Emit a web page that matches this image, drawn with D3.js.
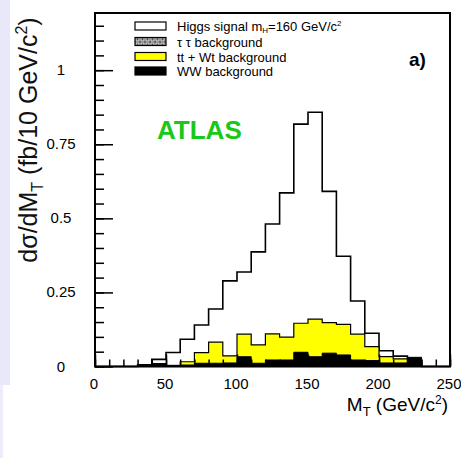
<!DOCTYPE html>
<html>
<head>
<meta charset="utf-8">
<script src="https://cdn.jsdelivr.net/npm/d3@7"></script>
<style>
body { margin: 0; background: #fff; }
svg { display: block; font-family: "Liberation Sans", Arial, sans-serif; }
</style>
</head>
<body>
<svg id="chart" width="461" height="458"></svg>
<script>
// lower edges of the 10 GeV bins of M_T
var binLow = [0, 10, 20, 30, 40, 50, 60, 70, 80, 90, 100, 110, 120, 130, 140, 150, 160, 170, 180, 190, 200, 210, 220, 230, 240];
var binSize = 10;

// dsigma/dM_T in fb per bin
var higgs = [0, 0, 0, 0.006, 0.024, 0.047, 0.092, 0.14, 0.194, 0.289, 0.319, 0.387, 0.481, 0.586, 0.818, 0.858, 0.591, 0.372, 0.221, 0.112, 0.053, 0.035, 0.01, 0, 0];
var ttWt = [0, 0, 0, 0, 0, 0, 0.016, 0.047, 0.082, 0.036, 0.109, 0.073, 0.11, 0.099, 0.146, 0.16, 0.148, 0.142, 0.109, 0.067, 0.033, 0.026, 0, 0, 0];
var ww = [0, 0, 0, 0.003, 0.01, 0.004, 0.005, 0.011, 0.011, 0.012, 0.033, 0.011, 0.022, 0.022, 0.048, 0.033, 0.045, 0.039, 0.022, 0.02, 0.012, 0.012, 0.031, 0, 0];

var xTicks = [0, 50, 100, 150, 200, 250];
var yTicks = [0, 0.25, 0.5, 0.75, 1];
var yTickLabels = ['0', '0.25', '0.5', '0.75', '1'];

var legendLabels = ['Higgs signal m', '\u03c4 \u03c4 background', 'tt + Wt background', 'WW background'];

var svg = d3.select('#chart');

// lavender strip on the left of the page
svg.append('rect').attr('x', 0).attr('y', 0).attr('width', 10).attr('height', 385).attr('fill', '#e8e8fa');
svg.append('rect').attr('x', 0).attr('y', 385).attr('width', 3).attr('height', 73).attr('fill', '#ececfb');

var x = d3.scaleLinear().domain([0, 250]).range([95, 450]);
var y = d3.scaleLinear().domain([0, 1.193]).range([366.5, 13]);

function stepPoints(vals) {
    var pts = [[binLow[0], 0]];
    for(var i = 0; i < vals.length; i++) {
        pts.push([binLow[i], vals[i]]);
        pts.push([binLow[i] + binSize, vals[i]]);
    }
    pts.push([binLow[binLow.length - 1] + binSize, 0]);
    return pts;
}

var line = d3.line()
    .x(function(d) { return x(d[0]); })
    .y(function(d) { return y(d[1]); });

var plot = svg.append('g');

plot.append('path')
    .attr('d', line(stepPoints(higgs)))
    .attr('fill', '#fff')
    .attr('stroke', '#000')
    .attr('stroke-width', 1.6);

plot.append('path')
    .attr('d', line(stepPoints(ttWt)))
    .attr('fill', '#ffff00')
    .attr('stroke', '#000')
    .attr('stroke-width', 1.2);

plot.append('path')
    .attr('d', line(stepPoints(ww)))
    .attr('fill', '#000')
    .attr('stroke', '#000')
    .attr('stroke-width', 1);

// ticks, pointing into the frame
var axes = svg.append('g').attr('stroke-width', 1.5);

axes.append('g')
    .attr('transform', 'translate(0,' + y(0) + ')')
    .call(d3.axisBottom(x).tickValues(d3.range(0, 251, 10)).tickSize(-7).tickFormat(''))
    .call(function(g) { g.select('.domain').remove(); });

axes.append('g')
    .attr('transform', 'translate(0,' + y(0) + ')')
    .call(d3.axisBottom(x).tickValues(xTicks).tickSize(-12).tickFormat(''))
    .call(function(g) { g.select('.domain').remove(); });

axes.append('g')
    .attr('transform', 'translate(' + x(0) + ',0)')
    .call(d3.axisLeft(y).tickValues(d3.range(0, 1.19, 0.05)).tickSize(-9).tickFormat(''))
    .call(function(g) { g.select('.domain').remove(); });

axes.append('g')
    .attr('transform', 'translate(' + x(0) + ',0)')
    .call(d3.axisLeft(y).tickValues(yTicks).tickSize(-18).tickFormat(''))
    .call(function(g) { g.select('.domain').remove(); });

axes.selectAll('line').attr('stroke', '#000');

// frame
svg.append('rect')
    .attr('x', x(0)).attr('y', y.range()[1])
    .attr('width', x(250) - x(0)).attr('height', y(0) - y.range()[1])
    .attr('fill', 'none').attr('stroke', '#000').attr('stroke-width', 2);

// tick labels
svg.append('g').selectAll('text')
    .data(xTicks)
    .join('text')
    .attr('x', function(d) { return x(d) - 1; })
    .attr('y', 389)
    .attr('text-anchor', 'middle')
    .attr('font-size', 15)
    .text(function(d) { return d; });

svg.append('g').selectAll('text')
    .data(yTicks)
    .join('text')
    .attr('x', 61)
    .attr('y', function(d) { return y(d) + 5; })
    .attr('text-anchor', 'middle')
    .attr('font-size', 15)
    .text(function(d, i) { return yTickLabels[i]; });

// axis titles
var xt = svg.append('text')
    .attr('x', 448).attr('y', 411)
    .attr('text-anchor', 'end')
    .attr('font-size', 19);
xt.append('tspan').text('M');
xt.append('tspan').attr('font-size', 13).attr('dy', 5).text('T');
xt.append('tspan').attr('dy', -5).text(' (GeV/c');
xt.append('tspan').attr('font-size', 12).attr('dy', -7).text('2');
xt.append('tspan').attr('dy', 7).text(')');

var yt = svg.append('text')
    .attr('transform', 'translate(37,140) rotate(-90)')
    .attr('text-anchor', 'middle')
    .attr('font-size', 25)
    .attr('fill', '#111');
yt.append('tspan').text('d\u03c3/dM');
yt.append('tspan').attr('font-size', 16).attr('dy', 6).text('T');
yt.append('tspan').attr('dy', -6).text(' (fb/10 GeV/c');
yt.append('tspan').attr('font-size', 16).attr('dy', -10).text('2');
yt.append('tspan').attr('dy', 10).text(')');

// legend
var defs = svg.append('defs');
var pat = defs.append('pattern')
    .attr('id', 'tautau').attr('patternUnits', 'userSpaceOnUse')
    .attr('width', 5).attr('height', 6);
pat.append('rect').attr('width', 5).attr('height', 6).attr('fill', '#555');
pat.append('rect').attr('x', 1).attr('y', 1).attr('width', 3).attr('height', 4).attr('fill', 'none')
    .attr('stroke', '#fff').attr('stroke-width', 0.8);

var legendFills = ['#fff', 'url(#tautau)', '#ffff00', '#000'];
var legend = svg.append('g').attr('font-size', 13);
var rowY = [26, 41.5, 56.5, 71];

legend.selectAll('rect')
    .data(legendLabels)
    .join('rect')
    .attr('x', 135).attr('y', function(d, i) { return rowY[i] - 4; })
    .attr('width', 31).attr('height', 8)
    .attr('fill', function(d, i) { return legendFills[i]; })
    .attr('stroke', '#000').attr('stroke-width', 1.2);

var lt = legend.selectAll('text')
    .data(legendLabels)
    .join('text')
    .attr('x', 177).attr('y', function(d, i) { return rowY[i] + 5; })
    .text(function(d) { return d; });

var first = d3.select(lt.nodes()[0]);
first.append('tspan').attr('font-size', 8).attr('dy', 2).text('H');
first.append('tspan').attr('dy', -2).text('=160 GeV/c');
first.append('tspan').attr('font-size', 8).attr('dy', -5).text('2');

svg.append('text')
    .attr('x', 409).attr('y', 66)
    .attr('font-size', 19).attr('font-weight', 'bold')
    .text('a)');

svg.append('text')
    .attr('x', 157).attr('y', 139)
    .attr('font-size', 26).attr('font-weight', 'bold')
    .attr('fill', '#19c819')
    .text('ATLAS');
</script>
</body>
</html>
